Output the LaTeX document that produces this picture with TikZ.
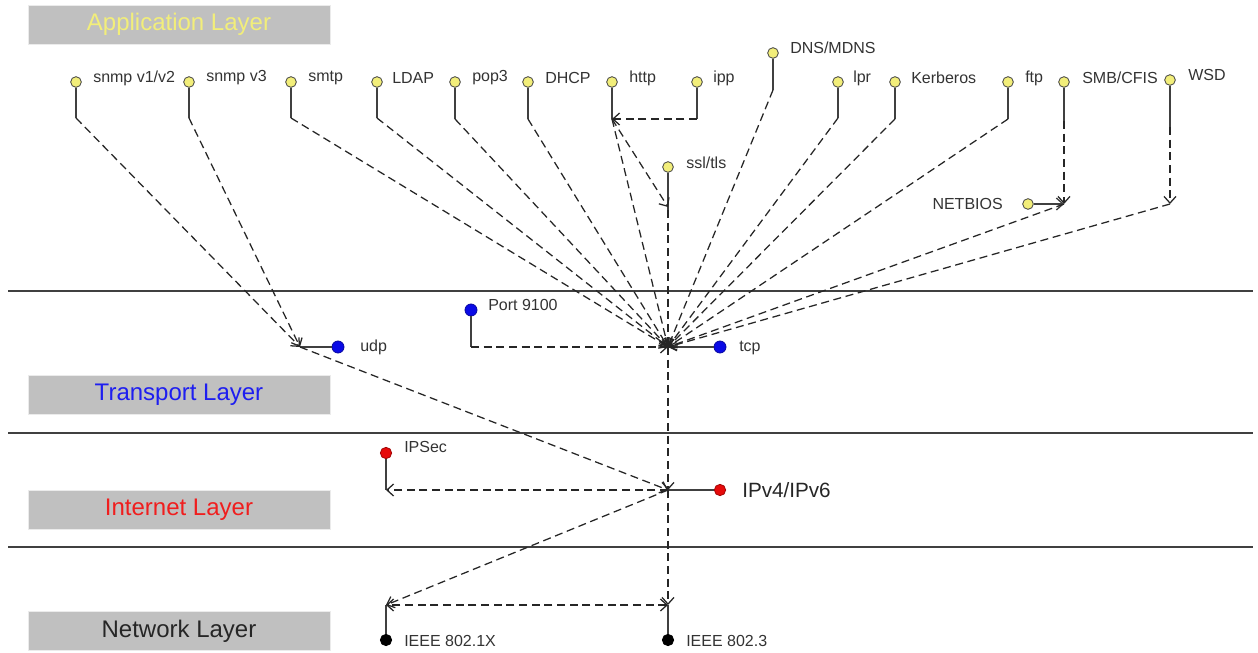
\documentclass[tikz,border=0pt]{standalone}
\usepackage{fontspec}
\setmainfont{Liberation Sans}
\usetikzlibrary{arrows.meta}
\definecolor{appyel}{HTML}{F2EE7A}
\definecolor{layergray}{HTML}{C0C0C0}
\definecolor{stemgray}{HTML}{404040}
\definecolor{tblue}{HTML}{1E1EF0}
\definecolor{ired}{HTML}{F01E1E}
\definecolor{ballblue}{HTML}{0A0AE6}
\definecolor{ballred}{HTML}{E60A0A}
\begin{document}
\begin{tikzpicture}[x=0.75pt,y=-0.75pt,
  ballstyle/.style={circle, inner sep=0pt, minimum size=8pt, draw=stemgray, line width=0.6pt},
  yball/.style={ballstyle, fill=appyel},
  bball/.style={ballstyle, minimum size=9pt, fill=ballblue, draw=ballblue!70!black},
  rball/.style={ballstyle, minimum size=8.5pt, fill=ballred, draw=ballred!70!black},
  kball/.style={ballstyle, minimum size=8.5pt, fill=black, draw=black},
  lbl/.style={anchor=west, inner sep=0pt, font=\fontsize{12}{14}\selectfont, text=black!80},
  layerbox/.style={fill=layergray, draw=black!8, line width=0.5pt, minimum width=226.5pt, minimum height=29.25pt, inner sep=0pt, font=\fontsize{18}{22}\selectfont},
  stem/.style={draw=stemgray, line width=1pt},
  solarrow/.style={stem, -{Straight Barb[length=5pt,width=9pt]}},
  dep/.style={draw=black!85, line width=0.95pt, dash pattern=on 6pt off 3.5pt, -{Straight Barb[length=5pt,width=9pt]}},
  depboth/.style={dep, {Straight Barb[length=5pt,width=9pt]}-{Straight Barb[length=5pt,width=9pt]}},
  sepline/.style={draw=stemgray, line width=1.1pt}
]
\useasboundingbox (0,0) rectangle (1258,653);

% separators
\draw[sepline] (8,291) -- (1253,291);
\draw[sepline] (8,433) -- (1253,433);
\draw[sepline] (8,547) -- (1253,547);

% layer boxes
\node[layerbox, text=appyel] (applayer) at (179,24.5) {\raisebox{-1pt}{Application Layer}};
\node[layerbox, text=tblue] (tlayer) at (179,394.5) {\raisebox{-1pt}{Transport Layer}};
\node[layerbox, text=ired] (ilayer) at (179,509.5) {\raisebox{-1pt}{Internet Layer}};
\node[layerbox, text=black!85] (nlayer) at (179,631) {\raisebox{-1pt}{Network Layer}};

% junction coordinates
\coordinate (udpj) at (300,347);
\coordinate (tcpj) at (668,347);
\coordinate (ipj) at (668,490);
\coordinate (ipsecj) at (386,490);
\coordinate (eaj) at (386,605);
\coordinate (ebj) at (668,605);
\coordinate (httpj) at (612,119);
\coordinate (ippj) at (697,119);
\coordinate (sslj) at (668,207);
\coordinate (sslend) at (668,210);
\coordinate (smbj) at (1064,204);
\coordinate (wsdj) at (1170,204);
\coordinate (p9100j) at (471,347);

% application layer balls + labels
\node[yball] (snmpa) at (76,82) {};   \node[lbl] (snmpal) at (93,78) {snmp v1/v2};
\node[yball] (snmpb) at (189,82) {};  \node[lbl] (snmpbl) at (206,78) {snmp v3};
\node[yball] (smtp) at (291,82) {};   \node[lbl] (smtpl) at (308,78) {smtp};
\node[yball] (ldap) at (377,82) {};   \node[lbl] (ldapl) at (392,78) {LDAP};
\node[yball] (pop) at (455,82) {};    \node[lbl] (popl) at (472,78) {pop3};
\node[yball] (dhcp) at (528,82) {};   \node[lbl] (dhcpl) at (545,78) {DHCP};
\node[yball] (http) at (612,82) {};   \node[lbl] (httpl) at (629,78) {http};
\node[yball] (ipp) at (697,82) {};    \node[lbl] (ippl) at (713,78) {ipp};
\node[yball] (dns) at (773,53) {};    \node[lbl] (dnsl) at (790,48) {DNS/MDNS};
\node[yball] (lpr) at (838,82) {};    \node[lbl] (lprl) at (853,78) {lpr};
\node[yball] (kerb) at (895,82) {};   \node[lbl] (kerbl) at (911,78) {Kerberos};
\node[yball] (ftp) at (1008,82) {};   \node[lbl] (ftpl) at (1025,78) {ftp};
\node[yball] (smb) at (1064,82) {};   \node[lbl] (smbl) at (1082,78) {SMB/CFIS};
\node[yball] (wsd) at (1170,80) {};   \node[lbl] (wsdl) at (1188,75) {WSD};
\node[yball] (ssl) at (668,167) {};   \node[lbl] (ssll) at (686,163) {ssl/tls};
\node[yball] (netb) at (1028,204) {}; \node[lbl, anchor=east] (netbl) at (1003,204) {NETBIOS};

% transport layer
\node[bball] (udp) at (338,347) {};   \node[lbl] (udpl) at (360,347) {udp};
\node[bball] (tcp) at (720,347) {};   \node[lbl] (tcpl) at (739,348) {tcp};
\node[bball] (p9100) at (471,310) {}; \node[lbl] (p9100l) at (488,305) {Port 9100};

% internet layer
\node[rball] (ipsec) at (386,453) {}; \node[lbl] (ipsecl) at (404,447) {IPSec};
\node[rball] (ip) at (720,490) {};    \node[lbl, font=\fontsize{15.5}{18}\selectfont, text=black!85] (ipl) at (742,490) {IPv4/IPv6};

% network layer
\node[kball] (ea) at (386,640) {};    \node[lbl] (eal) at (404,641) {IEEE 802.1X};
\node[kball] (eb) at (668,640) {};    \node[lbl] (ebl) at (686,641) {IEEE 802.3};

% stem-end coordinates
\coordinate (snmpae) at (76,118);
\coordinate (snmpbe) at (189,118);
\coordinate (smtpe) at (291,118);
\coordinate (ldape) at (377,118);
\coordinate (pope) at (455,119);
\coordinate (dhcpe) at (528,119);
\coordinate (dnse) at (773,90);
\coordinate (lpre) at (838,118);
\coordinate (kerbe) at (895,119);
\coordinate (ftpe) at (1008,119);
\coordinate (smbe) at (1064,121);
\coordinate (wsde) at (1170,127);

% solid stems
\foreach \b in {snmpa,snmpb,smtp,ldap,pop,dhcp,dns,lpr,kerb,ftp,smb,wsd}
  \draw[stem] (\b) -- (\b e);
\draw[stem] (http) -- (httpj);
\draw[stem] (ipp) -- (ippj);
\draw[stem] (ssl) -- (sslend);
\draw[stem] (udp) -- (udpj);
\draw[stem] (tcp) -- (tcpj);
\draw[stem] (p9100) -- (p9100j);
\draw[stem] (ipsec) -- (ipsecj);
\draw[stem] (ip) -- (ipj);
\draw[stem] (ea) -- (eaj);
\draw[stem] (eb) -- (ebj);
\draw[solarrow] (netb) -- (smbj);

% dependencies (dashed)
\draw[dep] (snmpae) -- (udpj);
\draw[dep] (snmpbe) -- (udpj);
\foreach \b in {smtp,ldap,pop,dhcp,dns,lpr,kerb,ftp}
  \draw[dep] (\b e) -- (tcpj);
\draw[dep] (ippj) -- (httpj);
\draw[dep] (httpj) -- (sslj);
\draw[dep] (httpj) -- (tcpj);
\draw[dep] (sslend) -- (tcpj);
\draw[dep] (smbe) -- (smbj);
\draw[dep] (wsde) -- (wsdj);
\draw[dep] (smbj) -- (tcpj);
\draw[dep] (wsdj) -- (tcpj);
\draw[dep] (p9100j) -- (tcpj);
\draw[dep] (udpj) -- (ipj);
\draw[dep] (tcpj) -- (ipj);
\draw[dep] (ipj) -- (ipsecj);
\draw[dep] (ipj) -- (eaj);
\draw[dep] (ipj) -- (ebj);
\draw[depboth] (ebj) -- (eaj);
\end{tikzpicture}
\end{document}
